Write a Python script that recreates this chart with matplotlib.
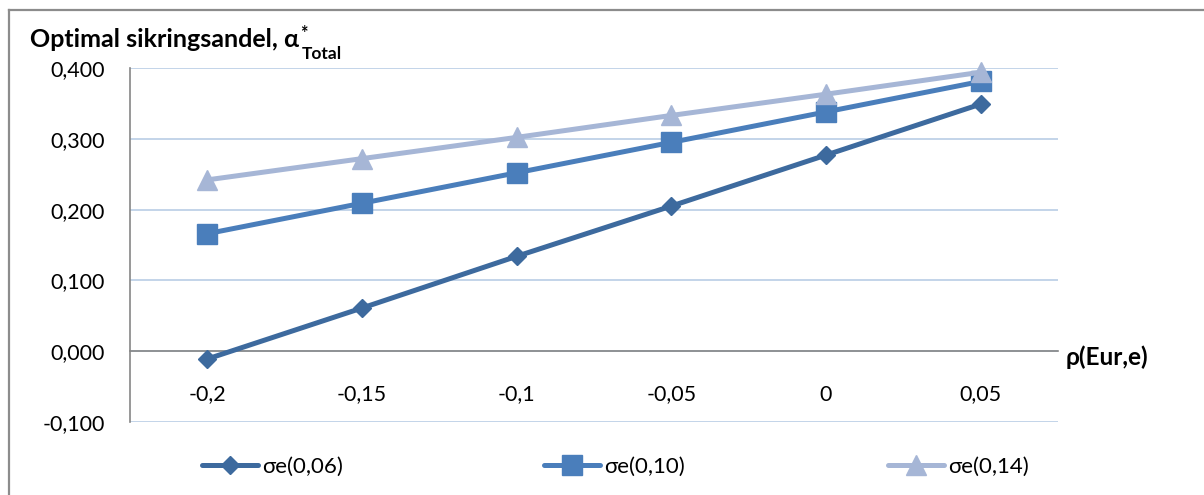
import matplotlib
matplotlib.use('Agg')
import matplotlib.pyplot as plt
from matplotlib.lines import Line2D

# Correlation categories on the x axis
rho = ['-0,2', '-0,15', '-0,1', '-0,05', '0', '0,05']

# Optimal hedge ratio for each exchange-rate volatility
alpha_006 = [-0.011, 0.061, 0.134, 0.205, 0.277, 0.349]
alpha_010 = [0.166, 0.209, 0.252, 0.295, 0.338, 0.381]
alpha_014 = [0.242, 0.272, 0.302, 0.333, 0.363, 0.394]
series_labels = ['σe(0,06)', 'σe(0,10)', 'σe(0,14)']

y_ticks = [-0.1, 0.0, 0.1, 0.2, 0.3, 0.4]
y_tick_labels = ['-0,100', '0,000', '0,100', '0,200', '0,300', '0,400']

plt.rcParams['font.family'] = ['Lato', 'DejaVu Sans']

W, H = 1204, 495
fig = plt.figure(figsize=(W / 100, H / 100), dpi=100)
ax = fig.add_axes([130 / W, 1 - 422 / H, 928 / W, 354 / H])

grid_c = '#b9cde5'
axis_c = '#868686'
styles = [('D', 9.5, '#3d6a9e'), ('s', 14, '#4a7ebb'), ('^', 14, '#a6b6d6')]

x = list(range(len(rho)))
handles = []
for vals, (m, ms, c), lab in zip([alpha_006, alpha_010, alpha_014], styles, series_labels):
    h, = ax.plot(x, vals, color=c, lw=3.6, marker=m, ms=ms, mec=c, mfc=c,
                 zorder=3, label=lab, solid_capstyle='round', clip_on=False)
    handles.append(h)

ax.set_xlim(-0.5, len(rho) - 0.5)
ax.set_ylim(-0.1, 0.4)
ax.set_yticks(y_ticks, y_tick_labels)
ax.set_xticks(x, rho)
ax.yaxis.grid(True, color=grid_c, lw=1.2)
ax.set_axisbelow(True)

for s in ('top', 'right'):
    ax.spines[s].set_visible(False)
ax.spines['left'].set_color(axis_c)
ax.spines['left'].set_linewidth(1.2)
ax.spines['bottom'].set_position(('data', 0))
ax.spines['bottom'].set_color(axis_c)
ax.spines['bottom'].set_linewidth(1.2)
ax.spines['bottom'].set_zorder(2.5)

ax.tick_params(axis='y', length=0, pad=18, labelsize=15.5)
ax.tick_params(axis='x', length=0, pad=24, labelsize=15.5)

# Title with superscript star and subscript
t = fig.text(30 / W, 1 - 47 / H, 'Optimal sikringsandel, α', fontsize=18,
             fontweight='bold', va='baseline', ha='left')
ax.annotate('*', xy=(1, 1), xycoords=t, xytext=(1, 2), textcoords='offset points',
            fontsize=13, fontweight='bold', va='top', ha='left', annotation_clip=False)
ax.annotate('Total', xy=(1, 0), xycoords=t, xytext=(2, -6), textcoords='offset points',
            fontsize=12.5, fontweight='bold', va='baseline', ha='left', annotation_clip=False)

# Axis name on the right
fig.text(1066 / W, 1 - 357 / H, 'ρ(Eur,e)', fontsize=17.5, fontweight='bold',
         va='center', ha='left')

# Legend entries spread along the bottom
for h, x0 in zip(handles, [202, 544, 888]):
    fig.legend(handles=[h], loc='center left', bbox_to_anchor=(x0 / W, 1 - 467 / H),
               frameon=False, borderpad=0, borderaxespad=0, handlelength=2.5,
               handletextpad=0.2, fontsize=16)

# Chart frame (left and top edges)
fig.add_artist(Line2D([9 / W, 9 / W], [0, 1 - 10 / H], color='#8c8c8c', lw=1.6))
fig.add_artist(Line2D([9 / W, 1], [1 - 10 / H, 1 - 10 / H], color='#8c8c8c', lw=1.6))

fig.savefig('out.png', dpi=100)
